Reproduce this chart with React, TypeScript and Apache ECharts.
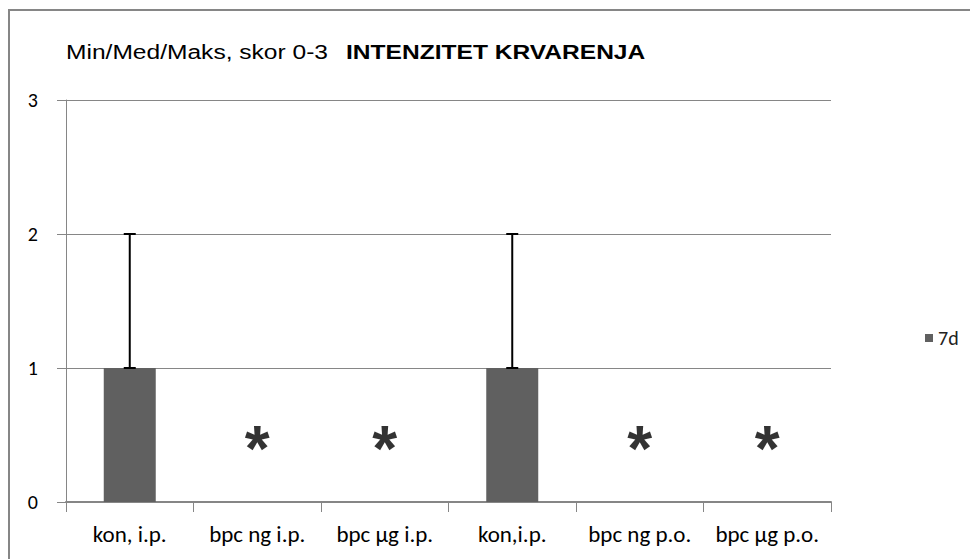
import React, { useEffect, useRef } from "react";
import * as echarts from "echarts";

const categories = ["kon, i.p.", "bpc ng i.p.", "bpc µg i.p.", "kon,i.p.", "bpc ng p.o.", "bpc µg p.o."];
const seriesName = "7d";
const medians = [1, null, null, 1, null, null];
const maxima = [2, null, null, 2, null, null];
const asteriskLevel = [null, 0.46, 0.46, null, 0.46, 0.46];
const yTicks = [0, 1, 2, 3];
const titleNormal = "Min/Med/Maks, skor 0-3";
const titleBold = "INTENZITET KRVARENJA";

const labelFont = "Carlito, Calibri, 'Open Sans', sans-serif";

export default function App() {
  const ref = useRef<HTMLDivElement>(null);
  useEffect(() => {
    if (!ref.current) return;
    const chart = echarts.init(ref.current, null, { renderer: "svg" });
    const errData = medians
      .map((m, i) => (m !== null && maxima[i] !== null ? [i, m, maxima[i]] : null))
      .filter((d) => d !== null);
    const starData = asteriskLevel
      .map((v, i) => (v !== null ? [i, v] : null))
      .filter((d) => d !== null);
    chart.setOption({
      animation: false,
      backgroundColor: "#ffffff",
      grid: { left: 58, top: 92, width: 765, height: 402, containLabel: false },
      legend: {
        data: [seriesName],
        left: 912,
        top: 315,
        icon: "rect",
        itemWidth: 8,
        itemHeight: 8,
        itemGap: 8,
        textStyle: { fontFamily: labelFont, fontSize: 20, color: "#222" },
      },
      graphic: [
        {
          type: "rect",
          silent: true,
          shape: { x: 1, y: 2, width: 3000, height: 3000 },
          style: { fill: "none", stroke: "#868686", lineWidth: 2 },
        },
        {
          type: "text",
          x: 58,
          y: 33,
          scaleX: 1.17,
          style: {
            text: titleNormal,
            font: "21px 'Liberation Sans', Arial, sans-serif",
            fill: "#000",
          },
        },
        {
          type: "text",
          x: 338,
          y: 33,
          scaleX: 1.17,
          style: {
            text: titleBold,
            font: "bold 21px 'Liberation Sans', Arial, sans-serif",
            fill: "#000",
          },
        },
      ],
      xAxis: {
        type: "category",
        data: categories,
        axisLine: { show: true, lineStyle: { color: "#868686", width: 2 } },
        axisTick: { show: true, length: 10, lineStyle: { color: "#868686", width: 1 } },
        axisLabel: {
          margin: 20,
          fontFamily: labelFont,
          fontSize: 23,
          color: "#000",
          interval: 0,
        },
        splitLine: { show: false },
      },
      yAxis: {
        type: "value",
        min: yTicks[0],
        max: yTicks[yTicks.length - 1],
        interval: 1,
        axisLine: { show: true, lineStyle: { color: "#868686", width: 1 } },
        axisTick: { show: true, length: 9, lineStyle: { color: "#868686" } },
        axisLabel: { margin: 28, fontFamily: labelFont, fontSize: 20, color: "#000" },
        splitLine: { show: true, lineStyle: { color: "#868686", width: 1 } },
      },
      series: [
        {
          name: seriesName,
          type: "bar",
          data: medians,
          barWidth: 52,
          itemStyle: { color: "#606060" },
          z: 2,
        },
        {
          type: "custom",
          data: errData,
          z: 5,
          renderItem: (params: any, api: any) => {
            const x = api.value(0);
            const lo = api.coord([x, api.value(1)]);
            const hi = api.coord([x, api.value(2)]);
            const hw = 6;
            const st = { stroke: "#000", lineWidth: 2 };
            return {
              type: "group",
              children: [
                { type: "line", shape: { x1: lo[0], y1: lo[1], x2: hi[0], y2: hi[1] }, style: st },
                { type: "line", shape: { x1: hi[0] - hw, y1: hi[1], x2: hi[0] + hw, y2: hi[1] }, style: st },
                { type: "line", shape: { x1: lo[0] - hw, y1: lo[1], x2: lo[0] + hw, y2: lo[1] }, style: st },
              ],
            };
          },
        },
        {
          type: "scatter",
          data: starData,
          symbolSize: 1,
          itemStyle: { color: "rgba(0,0,0,0)" },
          z: 6,
          label: {
            show: true,
            position: "inside",
            formatter: "*",
            fontFamily: "'Liberation Sans', Arial, sans-serif",
            fontWeight: "bold",
            fontSize: 64,
            color: "#000",
            offset: [0, 9],
          },
        },
      ],
    });
    return () => chart.dispose();
  }, []);
  return <div ref={ref} style={{ width: 970, height: 551 }} />;
}
